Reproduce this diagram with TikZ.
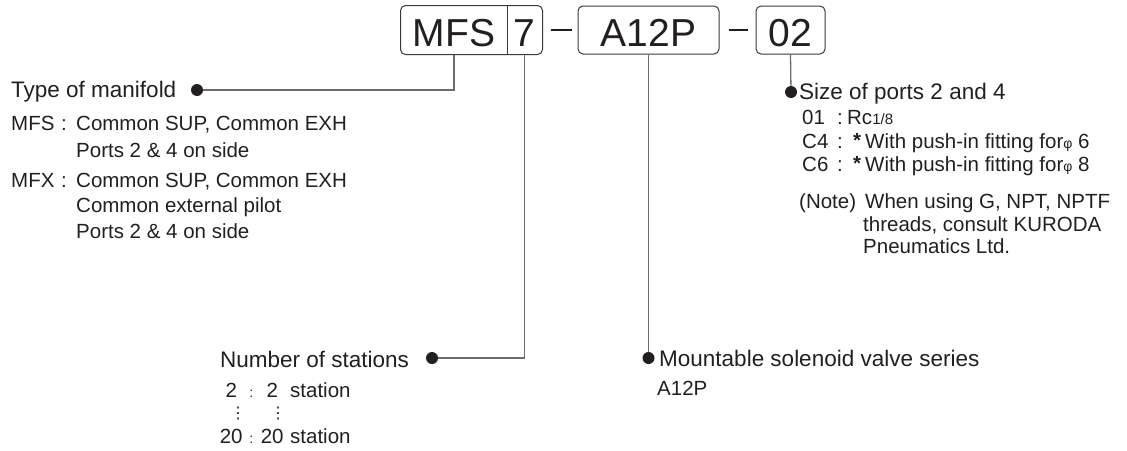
\documentclass[tikz,border=0pt]{standalone}
\usepackage{fontspec}
\setmainfont{Liberation Sans}
\newfontfamily\symfont{DejaVu Sans}
\usetikzlibrary{positioning}
\definecolor{ink}{HTML}{231F20}
\definecolor{leadgray}{HTML}{6D6D6D}
\definecolor{boxline}{HTML}{3A3A3A}
\newcommand\hdsize{\fontsize{22.5}{27}\selectfont}
\newcommand\itsize{\fontsize{20.5}{23}\selectfont}
\newcommand\smsize{\fontsize{14}{14}\selectfont}
\newcommand\lkey[1]{\makebox[50pt][l]{#1}\makebox[15pt][l]{:}}
\newcommand\rkey[1]{\makebox[35pt][l]{#1}\makebox[10pt][l]{:}}
\newcommand\bkey[2]{\makebox[24pt][c]{#1}\makebox[16pt][c]{\smsize:}\makebox[26pt][c]{#2}\hspace{5pt}}
\newcommand\starmark{\hspace{6pt}\raisebox{1pt}{\textbf{*}}\hspace{4pt}}

\begin{document}
\begin{tikzpicture}[
  x=1pt, y=-1pt,
  codebox/.style={rounded corners=5pt, minimum height=48pt, inner sep=0pt,
                  text height=32pt, text depth=0pt,
                  font=\fontsize{39}{39}\selectfont, text=ink, line width=1pt},
  hd/.style={anchor=base west, inner sep=0pt, font=\hdsize, text=ink},
  it/.style={anchor=base west, inner sep=0pt, font=\itsize, text=ink},
  vd/.style={text=ink, inner sep=0pt, font=\symfont\fontsize{16}{16}\selectfont},
  lead/.style={draw=leadgray, line width=1.3pt},
  pindot/.style={circle, fill=ink, inner sep=0pt, minimum size=12pt},
]
  \useasboundingbox (0,0) rectangle (1127,450);

  % Order code boxes
  \node[codebox, minimum width=106pt] (mfs) at (454,30) {MFS};
  \node[codebox, minimum width=35pt] (stn) at (524.5,30) {7};
  \draw[boxline, line width=1pt, rounded corners=5pt] (mfs.north west) rectangle (stn.south east);
  \draw[boxline, line width=1pt] (mfs.north east) -- (mfs.south east);
  \node[codebox, draw=boxline, minimum width=141pt] (a12p) at (648.5,30) {A12P};
  \node[codebox, draw=boxline, minimum width=69pt] (o2) at (790.5,30) {02};
  \draw[ink, line width=1.2pt, shorten <=8pt, shorten >=6pt] (stn.east) -- (a12p.west);
  \draw[ink, line width=1.2pt, shorten <=9pt, shorten >=8pt] (a12p.east) -- (o2.west);

  % Leaders
  \node[pindot] (tdot) at (197,90) {};
  \node[pindot] (ndot) at (432,358) {};
  \node[pindot] (mdot) at (648.5,358) {};
  \node[pindot] (sdot) at (791,92) {};
  \draw[lead] (mfs.south) |- (tdot);
  \draw[lead] (stn.south) |- (ndot);
  \foreach \b/\d in {a12p/mdot, o2/sdot} { \draw[lead] (\b.south) -- (\d); }

  % Type of manifold
  \node[hd] (tman) at (11,97) {Type of manifold};
  \node[it] (mfsl) at (11,130) {\lkey{MFS}Common SUP, Common EXH};
  \node[it] (mfsp) at (76,157) {Ports 2 \& 4 on side};
  \node[it] (mfxl) at (11,187) {\lkey{MFX}Common SUP, Common EXH};
  \node[it] (mfxe) at (76,212) {Common external pilot};
  \node[it] (mfxp) at (76,238) {Ports 2 \& 4 on side};

  % Size of ports
  \node[hd] (sport) at (799,99) {Size of ports 2 and 4};
  \node[it] (p01) at (802,124) {\rkey{01}Rc{\fontsize{15}{15}\selectfont 1/8}};
  \node[it] (pc4) at (802,148) {\rkey{C4}\starmark With push-in fitting for{\smsize φ} 6};
  \node[it] (pc6) at (802,171) {\rkey{C6}\starmark With push-in fitting for{\smsize φ} 8};
  \node[it] (note) at (799,208) {(Note)};
  \node[it] (note1) at (865,208) {When using G, NPT, NPTF};
  \node[it] (note2) at (863,231) {threads, consult KURODA};
  \node[it] (note3) at (863,253) {Pneumatics Ltd.};

  % Number of stations
  \node[hd] (nst) at (220,367) {Number of stations};
  \node[it] (st2) at (219,397) {\bkey{2}{2}station};
  \node[vd] (vd1) at (238,414) {⋮};
  \node[vd] (vd2) at (278,414) {⋮};
  \node[it] (st20) at (219,443) {\bkey{20}{20}station};

  % Valve series
  \node[hd] (msv) at (659,366) {Mountable solenoid valve series};
  \node[it] (msva) at (657,395) {A12P};
\end{tikzpicture}
\end{document}
